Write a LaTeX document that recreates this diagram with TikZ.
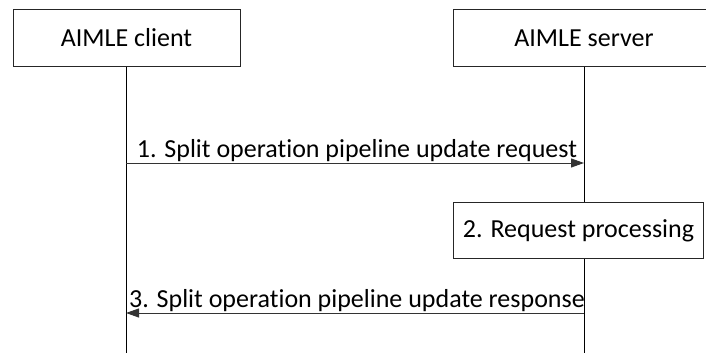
\documentclass[tikz,border=0pt]{standalone}
\usepackage{fontspec}
\setmainfont[Ligatures=NoCommon]{Carlito}
\usetikzlibrary{arrows.meta}
\begin{document}
\begin{tikzpicture}[x=1pt,y=-1pt,
  font=\fontsize{26}{30}\selectfont,
  entity/.style={draw=black!85,line width=1pt,fill=white,inner sep=0pt,minimum height=56pt},
  life/.style={draw=black,line width=1pt},
  msg/.style={draw=black!80,line width=1pt,-{Triangle[length=13pt,width=9pt]}},
  lbl/.style={inner sep=0pt,anchor=base}]
\useasboundingbox (0,0) rectangle (706,353);
\node[entity,minimum width=227pt] (client) at (126.5,38) {AIMLE client};
\node[entity,minimum width=262pt] (server) at (584,38) {AIMLE server};
\coordinate (cb) at (126,353);
\coordinate (sb) at (584,353);
\coordinate (c1) at (126,163);
\coordinate (s1) at (584,163);
\coordinate (c3) at (126,313);
\coordinate (s3) at (584,313);
\node[entity,minimum width=250pt,anchor=north west] (proc) at (453,202) {2. Request processing};
\draw[life] (client.south -| cb) -- (cb);
\draw[life] (server.south) -- (proc.north -| server);
\draw[life] (proc.south -| server) -- (sb);
\draw[msg] (c1) -- (s1);
\node[lbl] (m1) at (357,157) {1. Split operation pipeline update request};
\draw[msg] (s3) -- (c3);
\node[lbl] (m3) at (357,307) {3. Split operation pipeline update response};
\end{tikzpicture}
\end{document}
